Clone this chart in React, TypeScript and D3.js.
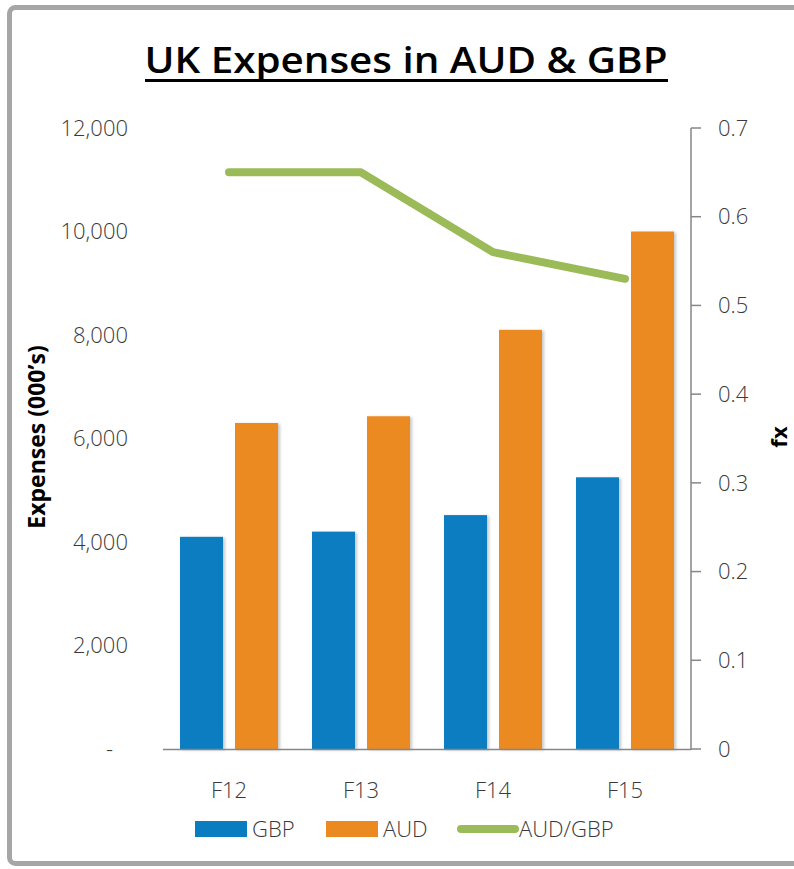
import React from "react";
import * as d3 from "d3";

const categories = ["F12", "F13", "F14", "F15"];
const gbpValues = [4100, 4200, 4520, 5250];
const audValues = [6300, 6430, 8100, 10000];
const fxValues = [0.65, 0.65, 0.56, 0.53];
const leftTicks = [0, 2000, 4000, 6000, 8000, 10000, 12000];
const rightTicks = [0, 0.1, 0.2, 0.3, 0.4, 0.5, 0.6, 0.7];
const seriesNames = ["GBP", "AUD"];

const W = 794;
const H = 869;
const FONT = "'Open Sans', 'Noto Sans', sans-serif";
const TXT = "#3a3a3a";
const COLORS: Record<string, string> = { GBP: "#0A7DC1", AUD: "#EC8A22" };
const GREEN = "#9BBB59";
const AXIS = "#868686";

export default function App() {
  const x0 = d3.scaleBand<string>().domain(categories).range([163, 691]).padding(0);
  const groupW = 98;
  const x1 = d3.scaleBand<string>().domain(seriesNames).range([0, groupW]).paddingInner(0.218).paddingOuter(0);
  const yL = d3.scaleLinear().domain([0, 12000]).range([749, 128]);
  const yR = d3.scaleLinear().domain([0, 0.7]).range([749, 128]);
  const fmt = d3.format(",");
  const cx = (c: string) => (x0(c) as number) + x0.bandwidth() / 2;

  const line = d3
    .line<number>()
    .x((_, i) => cx(categories[i]))
    .y((d) => yR(d));

  const seriesData: Record<string, number[]> = { GBP: gbpValues, AUD: audValues };

  return (
    <svg width={W} height={H} style={{ position: "absolute", left: 0, top: 0 }} fontFamily={FONT}>
      <defs>
        <filter id="sh" x="-20%" y="-5%" width="150%" height="115%">
          <feDropShadow dx="2" dy="1" stdDeviation="1.5" floodColor="#000" floodOpacity="0.22" />
        </filter>
      </defs>
      <rect x={0} y={0} width={W} height={H} fill="#fff" />
      <rect x={9.5} y={7.5} width={W + 20} height={856} rx={6} fill="#fff" stroke="#A6A6A6" strokeWidth={5} />

      <text x={406} y={73} textAnchor="middle" fontWeight={600} fontSize={36} fill="#000" textLength={523} lengthAdjust="spacingAndGlyphs">
        UK Expenses in AUD &amp; GBP
      </text>
      <line x1={145} x2={668} y1={80.5} y2={80.5} stroke="#000" strokeWidth={3} />

      {/* left tick labels */}
      {leftTicks.map((t) => (
        <text key={t} x={t === 0 ? 113 : 128} y={yL(t)} dy="0.35em" textAnchor="end" fontSize={22} fontWeight={300} fill={TXT}>
          {t === 0 ? "-" : fmt(t)}
        </text>
      ))}

      {/* bars */}
      {categories.map((c, i) => (
        <g key={c} transform={`translate(${cx(c) - groupW / 2},0)`}>
          {seriesNames.map((s) => (
            <rect
              key={s}
              x={x1(s)}
              width={x1.bandwidth()}
              y={yL(seriesData[s][i])}
              height={yL(0) - yL(seriesData[s][i])}
              fill={COLORS[s]}
              filter="url(#sh)"
            />
          ))}
        </g>
      ))}

      {/* baseline */}
      <line x1={163} x2={691} y1={749.5} y2={749.5} stroke={AXIS} strokeWidth={1.5} />

      {/* right axis */}
      <line x1={691} x2={691} y1={128} y2={750} stroke={AXIS} strokeWidth={1.5} />
      {rightTicks.map((t) => (
        <g key={t}>
          <line x1={691} x2={701} y1={yR(t)} y2={yR(t)} stroke={AXIS} strokeWidth={1.5} />
          <text x={718} y={yR(t)} dy="0.35em" fontSize={22} fontWeight={300} fill={TXT}>
            {t === 0 ? "0" : d3.format(".1f")(t)}
          </text>
        </g>
      ))}

      {/* fx line */}
      <path d={line(fxValues) || ""} fill="none" stroke={GREEN} strokeWidth={8} strokeLinecap="round" strokeLinejoin="round" />

      {/* category labels */}
      {categories.map((c) => (
        <text key={c} x={cx(c)} y={798} textAnchor="middle" fontSize={22} fontWeight={300} fill={TXT}>
          {c}
        </text>
      ))}

      {/* axis titles */}
      <text transform="translate(45,437) rotate(-90)" textAnchor="middle" fontSize={23} fontWeight={700} fill="#000">
        Expenses (000’s)
      </text>
      <text transform="translate(787,437) rotate(-90)" textAnchor="middle" fontSize={22} fontWeight={700} fill="#000">
        fx
      </text>

      {/* legend */}
      <rect x={195} y={821} width={52} height={16} fill={COLORS.GBP} />
      <text x={252} y={837} fontSize={22} fontWeight={300} fill={TXT}>GBP</text>
      <rect x={326} y={821} width={52} height={16} fill={COLORS.AUD} />
      <text x={383} y={837} fontSize={22} fontWeight={300} fill={TXT}>AUD</text>
      <line x1={461} x2={515} y1={829} y2={829} stroke={GREEN} strokeWidth={8} strokeLinecap="round" />
      <text x={519} y={837} fontSize={22} fontWeight={300} fill={TXT}>AUD/GBP</text>
    </svg>
  );
}
